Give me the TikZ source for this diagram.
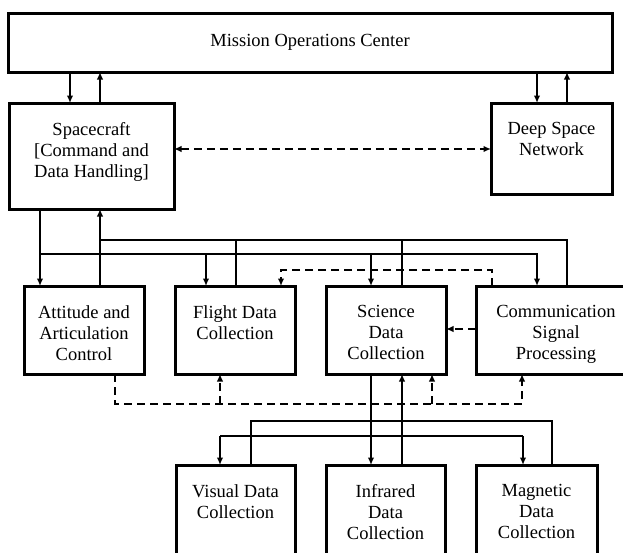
\documentclass[tikz,border=0pt]{standalone}
\usepackage{fontspec}
\setmainfont{Liberation Serif}
\usetikzlibrary{arrows.meta}
\begin{document}
\begin{tikzpicture}[x=1pt,y=-1pt,
  box/.style={draw, line width=3pt, inner sep=0pt, outer sep=0pt},
  lbl/.style={anchor=north, yshift=-19pt, align=center, inner sep=0pt,
    font=\fontsize{18.5}{21}\selectfont},
  conn/.style={line width=1.9pt},
  arr/.style={conn, -{Latex[length=7.5pt,width=6.5pt]}},
  darr/.style={arr, dash pattern=on 8pt off 5pt},
  dbl/.style={conn, dash pattern=on 8pt off 5pt, {Latex[length=7.5pt,width=6.5pt]}-{Latex[length=7.5pt,width=6.5pt]}}
]
\useasboundingbox (0,0) rectangle (623,552);
\clip (0,0) rectangle (623,552);

% ground segment
\node[box, minimum width=604pt, minimum height=59pt,
  font=\fontsize{18.5}{21}\selectfont] (moc) at (310,42.5) {\raisebox{-2pt}{Mission Operations Center}};
\node[box, minimum width=165pt, minimum height=106pt,
  label={[lbl]north:Spacecraft\\{[}Command and\\Data Handling{]}}] (sc) at (91.5,156) {};
\node[box, minimum width=121pt, minimum height=91pt,
  label={[lbl]north:Deep Space\\Network}] (dsn) at (551.5,148.5) {};

% spacecraft subsystems
\node[box, minimum width=120pt, minimum height=88pt,
  label={[lbl]north:Attitude and\\Articulation\\Control}] (aac) at (84,330) {};
\node[box, minimum width=120pt, minimum height=88pt,
  label={[lbl]north:Flight Data\\Collection}] (fdc) at (235,330) {};
\node[box, minimum width=120pt, minimum height=88pt,
  label={[lbl]north:Science\\Data\\Collection}] (sdc) at (386,330) {};
\node[box, minimum width=160pt, minimum height=88pt,
  label={[lbl]north:Communication\\Signal\\Processing}] (csp) at (556,330) {};

% science instruments
\node[box, minimum width=119pt, minimum height=115pt,
  label={[lbl]north:Visual Data\\Collection}] (vis) at (235.5,522.5) {};
\node[box, minimum width=119pt, minimum height=115pt,
  label={[lbl]north:Infrared\\Data\\Collection}] (ir) at (385.5,522.5) {};
\node[box, minimum width=121pt, minimum height=115pt,
  label={[lbl]north:Magnetic\\Data\\Collection}] (mag) at (536.5,522.5) {};

% links to the operations center
\draw[arr] (70,0 |- moc.south) -- (70,0 |- sc.north);
\draw[arr] (100,0 |- sc.north) -- (100,0 |- moc.south);
\draw[arr] (537,0 |- moc.south) -- (537,0 |- dsn.north);
\draw[arr] (567,0 |- dsn.north) -- (567,0 |- moc.south);

% radio link
\draw[dbl] (sc.east |- 0,149) -- (dsn.west |- 0,149);

% command bus out of the spacecraft
\draw[arr] (40,0 |- sc.south) -- (40,0 |- aac.north);
\draw[arr] (40,254) -- (537,254) -- (537,0 |- csp.north);
\draw[arr] (206,254) -- (206,0 |- fdc.north);
\draw[arr] (371,254) -- (371,0 |- sdc.north);

% telemetry bus into the spacecraft
\draw[arr] (100,0 |- aac.north) -- (100,0 |- sc.south);
\draw[conn] (100,240) -- (567,240) -- (567,0 |- csp.north);
\draw[conn] (236,0 |- fdc.north) -- (236,240);
\draw[conn] (402,0 |- sdc.north) -- (402,240);

% auxiliary dashed links
\draw[darr] (492,0 |- csp.north) -- (492,270) -- (281,270) -- (281,0 |- fdc.north);
\draw[darr] (csp.west |- 0,329) -- (sdc.east |- 0,329);
\draw[darr] (115,0 |- aac.south) -- (115,404) -- (522,404) -- (522,0 |- csp.south);
\draw[darr] (220,404) -- (220,0 |- fdc.south);
\draw[darr] (432,404) -- (432,0 |- sdc.south);

% instrument buses
\draw[arr] (371,0 |- sdc.south) -- (371,0 |- ir.north);
\draw[conn] (220,436) -- (523,436);
\draw[arr] (220,436) -- (220,0 |- vis.north);
\draw[arr] (523,436) -- (523,0 |- mag.north);
\draw[arr] (402,0 |- ir.north) -- (402,0 |- sdc.south);
\draw[conn] (251,0 |- vis.north) -- (251,421) -- (552,421) -- (552,0 |- mag.north);
\end{tikzpicture}
\end{document}
